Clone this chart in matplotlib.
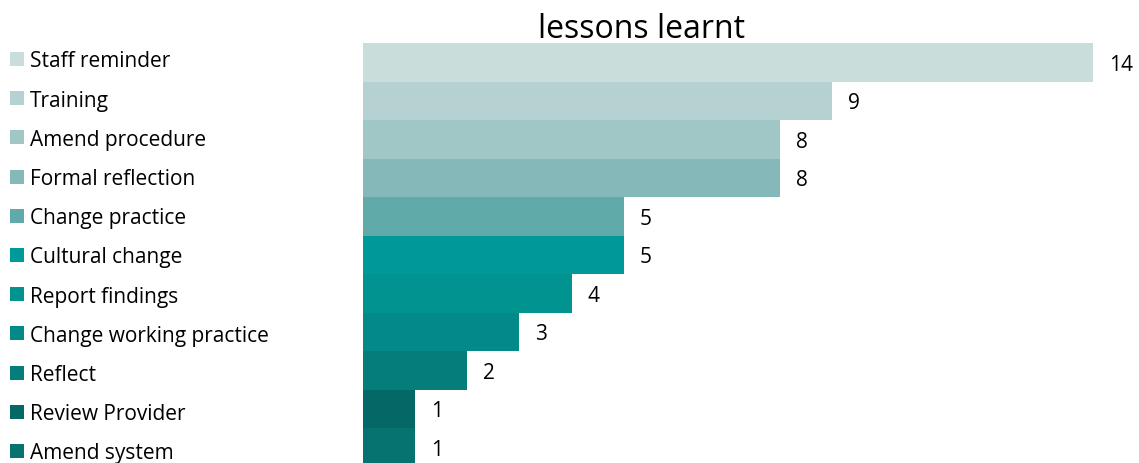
import matplotlib
matplotlib.use("Agg")
import matplotlib.pyplot as plt
from matplotlib.patches import Rectangle

categories = ["Staff reminder", "Training", "Amend procedure", "Formal reflection",
              "Change practice", "Cultural change", "Report findings",
              "Change working practice", "Reflect", "Review Provider", "Amend system"]
values = [14, 9, 8, 8, 5, 5, 4, 3, 2, 1, 1]
colors = ["#C9DEDB", "#B6D1D1", "#A0C6C5", "#85B8B8", "#60AAAA", "#009999",
          "#019390", "#038A88", "#057E7B", "#046866", "#077371"]

W, H = 1139, 464
fig = plt.figure(figsize=(W / 100, H / 100), dpi=100)
plt.rcParams['font.family'] = ['Open Sans', 'DejaVu Sans']

bar_h = 38.5
top = 44
n = len(values)
ax_left = 363
ax_bottom_px = top + n * bar_h  # pixels from top
ax = fig.add_axes([ax_left / W, (H - ax_bottom_px) / H, (W - ax_left) / W, n * bar_h / H])
unit = 730 / 14
ax.set_xlim(0, (W - ax_left) / unit)
ax.set_ylim(n - 0.5, -0.5)
ypos = list(range(n))
ax.barh(ypos, values, height=1.0, color=colors, linewidth=0)
for y, v in zip(ypos, values):
    ax.annotate(str(v), xy=(v, y), xytext=(16, -7.5), textcoords="offset pixels",
                va="baseline", ha="left", fontsize=15, color="black")
ax.axis("off")

fig.text(641.5 / W, 1 - 37.7 / H, "lessons learnt", ha="center", va="baseline",
         fontsize=23, color="black")

# legend
sq = 14
for i, (c, lab) in enumerate(zip(colors, categories)):
    yc = 60 + i * 39.2
    fig.add_artist(Rectangle((10 / W, 1 - (yc + sq / 2) / H), sq / W, sq / H,
                             transform=fig.transFigure, facecolor=c, edgecolor="none"))
    fig.text(30 / W, 1 - (yc + 7.3) / H, lab, ha="left", va="baseline", fontsize=15,
             color="black")

fig.savefig("out.png", dpi=100)
